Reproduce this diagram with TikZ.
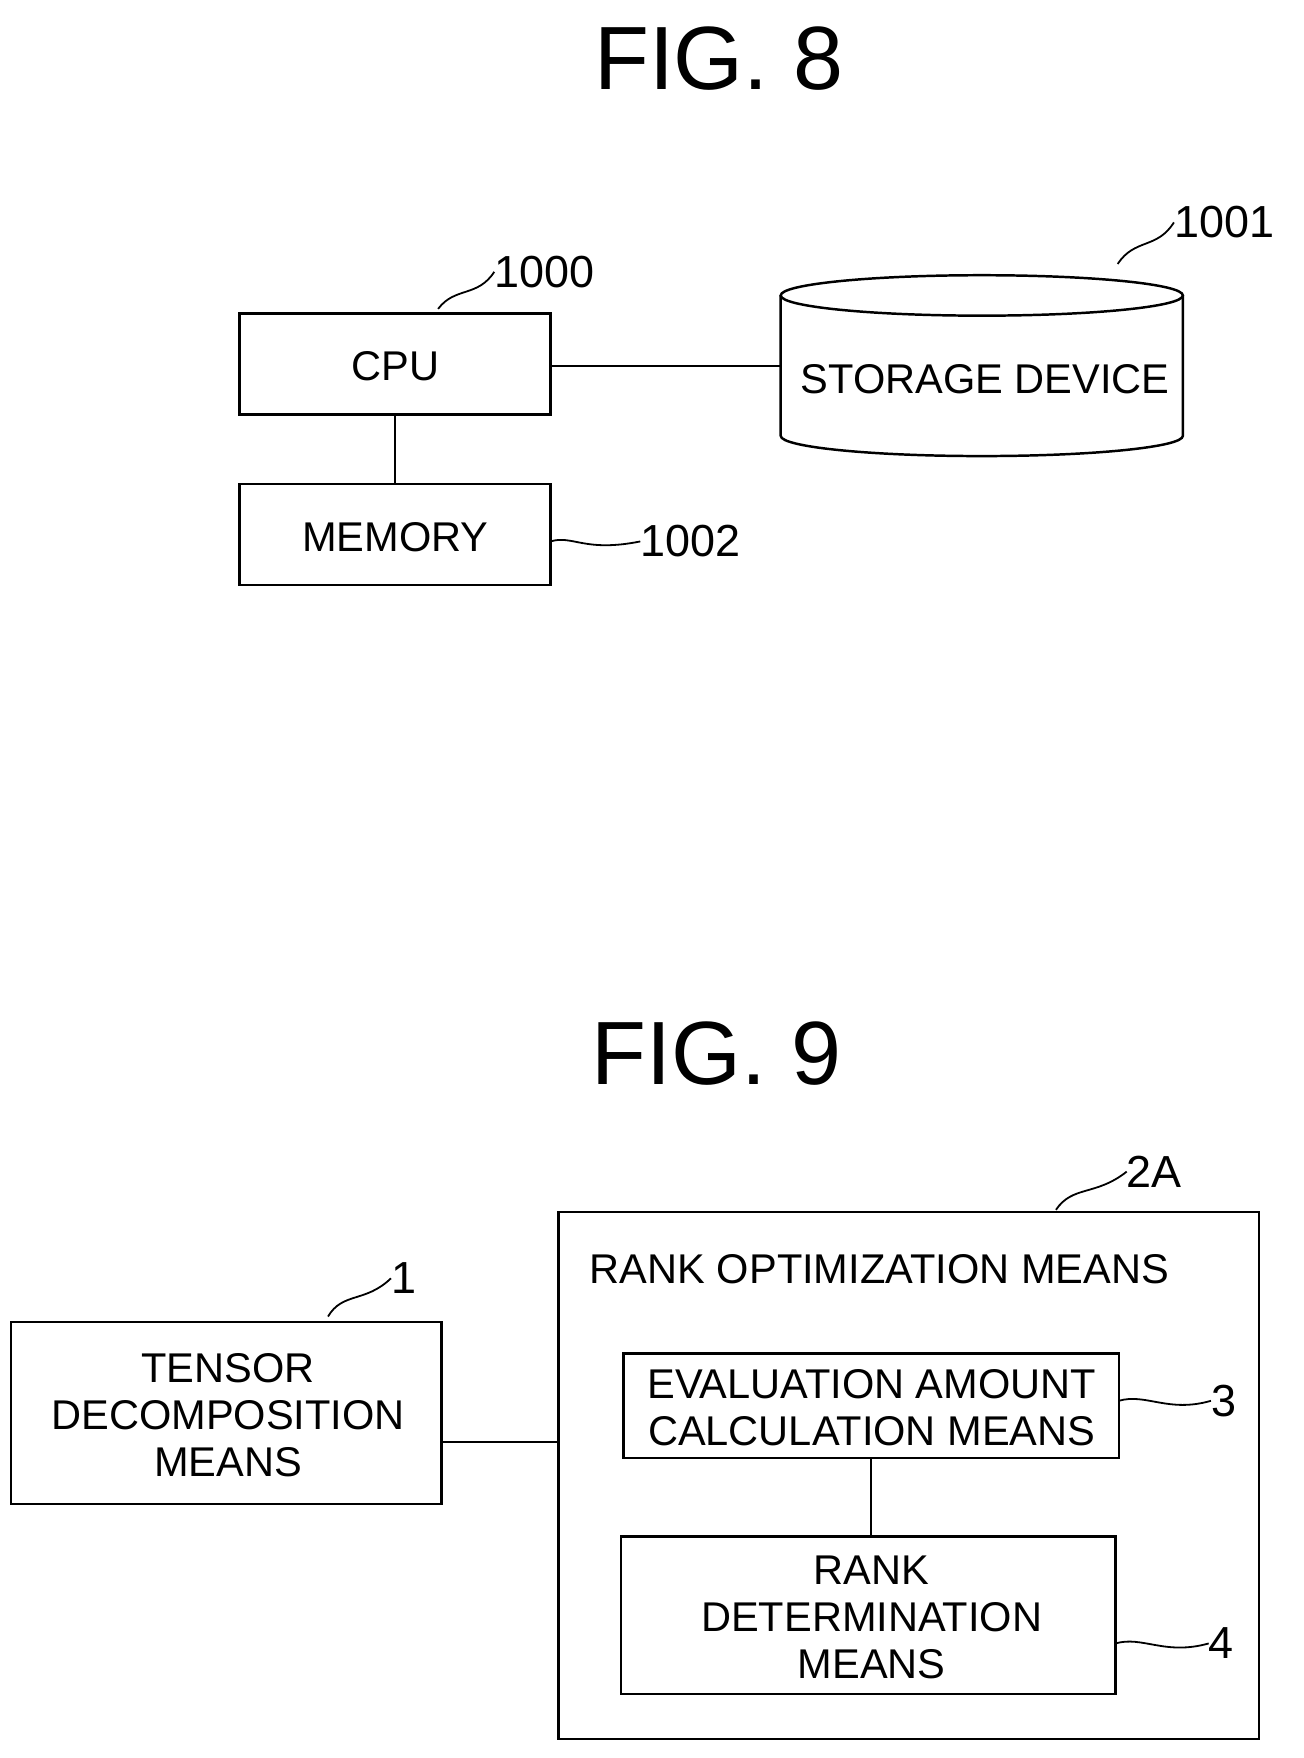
\documentclass[tikz,border=0pt]{standalone}
\usepackage{fontspec}
\setmainfont{Liberation Sans}
\usetikzlibrary{shapes.geometric}
\begin{document}
\begin{tikzpicture}[x=1pt,y=-1pt,
  box/.style={draw,line width=2.2pt},
  lab/.style={font=\fontsize{40}{44}\selectfont,inner sep=0pt},
  txt/.style={font=\fontsize{37}{42}\selectfont,align=center,inner sep=0pt},
  fig/.style={font=\fontsize{80}{90}\selectfont,inner sep=0pt},
  ln/.style={line width=1.8pt},
  sq/.style={line width=1.6pt}]
\useasboundingbox (0,0) rectangle (1160,1565);
\node[fig] (f8) at (640,52) {FIG. 8};
\node[fig] (f9) at (638,938) {FIG. 9};
% FIG 8
\draw[box] (213,279) rectangle (490,369);
\node[txt] (cpu) at (352,326) {CPU};
\draw[box] (213,431) rectangle (490,521);
\node[txt] (mem) at (352,478) {MEMORY};
\coordinate (cpub) at (352,369); \coordinate (memt) at (352,431);
\draw[ln] (cpub) -- (memt);
\coordinate (cpur) at (490,326); \coordinate (stl) at (695,326);
\draw[ln] (cpur) -- (stl);
\draw[box] (695,263) -- (695,388) arc[start angle=180,end angle=360,x radius=179,y radius=-18] -- (1053,263);
\draw[box] (874,263) ellipse[x radius=179,y radius=18];
\node[txt] (st) at (877,338) {STORAGE DEVICE};
\node[lab,anchor=west] (l1000) at (440,242) {1000};
\coordinate (a1) at (390,275);
\draw[sq] (a1) .. controls (405,255) and (425,265) .. (l1000.west);
\node[lab,anchor=west] (l1001) at (1045,198) {1001};
\coordinate (a2) at (995,235);
\draw[sq] (a2) .. controls (1010,212) and (1030,222) .. (l1001.west);
\node[lab,anchor=west] (l1002) at (570,482) {1002};
\coordinate (a3) at (490,482);
\draw[sq] (a3) .. controls (510,476) and (520,492) .. (l1002.west);
% FIG 9
\draw[box] (10,1177) rectangle (393,1339);
\node[txt] (ten) at (203,1260) {TENSOR\\DECOMPOSITION\\MEANS};
\draw[box] (497,1079) rectangle (1121,1548);
\coordinate (tr) at (393,1284); \coordinate (bl) at (497,1284);
\draw[ln] (tr) -- (bl);
\node[txt,anchor=west] (rom) at (525,1130) {RANK OPTIMIZATION MEANS};
\draw[box] (555,1205) rectangle (996,1298);
\node[txt] (ev) at (776,1253) {EVALUATION AMOUNT\\CALCULATION MEANS};
\draw[box] (553,1368) rectangle (993,1508);
\node[txt] (rd) at (776,1440) {RANK\\DETERMINATION\\MEANS};
\coordinate (eb) at (775,1298); \coordinate (rt) at (775,1368);
\draw[ln] (eb) -- (rt);
\node[lab,anchor=west] (l1) at (348,1138) {1};
\coordinate (b1) at (292,1172);
\draw[sq] (b1) .. controls (305,1150) and (325,1160) .. (l1.west);
\node[lab,anchor=west] (l2a) at (1003,1043) {2A};
\coordinate (b2) at (940,1077);
\draw[sq] (b2) .. controls (955,1055) and (975,1065) .. (l2a.west);
\node[lab,anchor=west] (l3) at (1078,1247) {3};
\coordinate (b3) at (996,1247);
\draw[sq] (b3) .. controls (1020,1240) and (1040,1258) .. (l3.west);
\node[lab,anchor=west] (l4) at (1076,1463) {4};
\coordinate (b4) at (993,1463);
\draw[sq] (b4) .. controls (1017,1456) and (1037,1474) .. (l4.west);
\end{tikzpicture}
\end{document}
